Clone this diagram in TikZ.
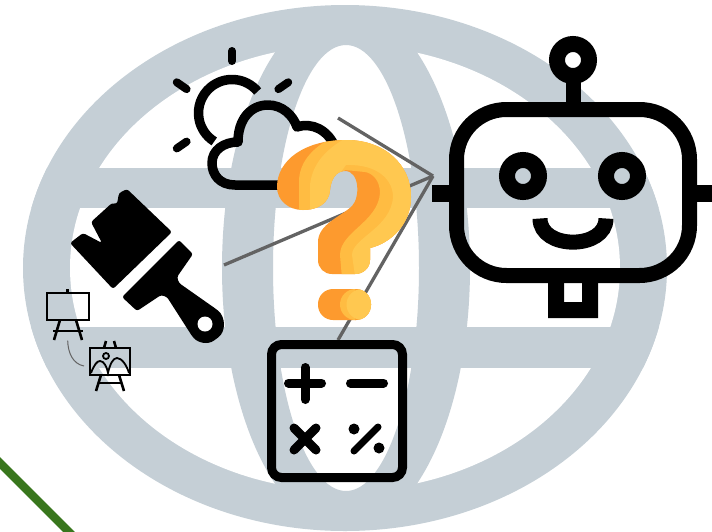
\documentclass[tikz,border=0pt]{standalone}
\usetikzlibrary{calc}
\definecolor{globegray}{HTML}{C5CFD6}
\definecolor{linkgray}{HTML}{636363}
\definecolor{qbase}{HTML}{FD9A2E}
\definecolor{qmid}{HTML}{FFBC42}
\definecolor{qlight}{HTML}{FFC850}
\definecolor{leaf}{HTML}{38761D}
\tikzset{
  link/.style={draw=linkgray,line width=3.3pt},
  thinlink/.style={draw=linkgray,line width=1pt},
  icon/.style={draw=black,line width=15pt},
  cloudline/.style={draw=black,line width=9.5pt,line join=round},
  ray/.style={draw=black,line width=8pt,line cap=round},
  calcmark/.style={draw=black,line width=9pt,line cap=round},
  easelline/.style={draw=black,line width=2.6pt},
  qshape/.style={fill=qbase},
}
\newcommand{\qpath}{(277,187)
 .. controls (277,160) and (305,140) .. (346,140)
 .. controls (385,140) and (411,165) .. (411,197)
 .. controls (411,224) and (391,243) .. (370,248)
 -- (370,260)
 .. controls (370,268) and (363,274) .. (355,274)
 -- (332,274)
 .. controls (324,274) and (318,268) .. (318,260)
 -- (318,242)
 .. controls (318,224) and (342,216) .. (352,206)
 .. controls (360,198) and (360,171) .. (345,171)
 .. controls (336,171) and (331,179) .. (330,190)
 .. controls (329,203) and (318,210) .. (303,210)
 .. controls (288,210) and (277,200) .. (277,187) -- cycle}
\begin{document}
\begin{tikzpicture}[x=1pt,y=-1pt]
\useasboundingbox (0,0) rectangle (712,531);
\clip (0,0) rectangle (712,531);
% globe
\fill[globegray] (345,268) ellipse [x radius=322,y radius=263];
\fill[white] (345,268) ellipse [x radius=275,y radius=223];
\begin{scope}
  \clip (345,268) ellipse [x radius=322,y radius=263];
  \fill[globegray] (0,168) rectangle (712,208);
  \fill[globegray] (0,327) rectangle (712,368);
\end{scope}
\fill[globegray,even odd rule] (346,268) ellipse [x radius=124,y radius=263]
   (346,268) ellipse [x radius=73,y radius=223];
% green line
\coordinate (greenA) at (-6,457);
\coordinate (greenB) at (75,538);
\draw[leaf,line width=8.3pt] (greenA) -- (greenB);
% connectors
\coordinate (apex) at (433,176);
\coordinate (cloudEnd) at (338,118);
\coordinate (brushEnd) at (224,265);
\coordinate (calcEnd) at (338,340);
\draw[link] (cloudEnd) -- (apex);
\draw[link] (brushEnd) -- (apex);
\draw[link] (calcEnd) -- (apex);
% sun and cloud
\draw[cloudline] (232,113) ++(-40:33.5) arc [start angle=-40,end angle=-238,radius=33.5];
\draw[ray] (232,51) -- (232,61);
\draw[ray] (176.8,82.3) -- (186.6,89.1);
\draw[ray] (288.2,82.3) -- (278.4,89.1);
\draw[ray] (176.8,148.4) -- (186.6,141.6);
\draw[cloudline] (300,185) -- (235,185)
  .. controls (220,185) and (212,175) .. (212,163)
  .. controls (212,150) and (224,142) .. (238,142)
  .. controls (238,120) and (250,105) .. (268,105)
  .. controls (282,105) and (293,115) .. (297,127)
  .. controls (312,122) and (328,130) .. (335,147);
% brush
\fill[black,rounded corners=2.5pt] (70,243) -- (83,233) -- (102,243) -- (91,222) -- (112,203)
  -- (117,204) -- (119,193) -- (127,189) -- (172,232) -- (113,289) -- cycle;
\fill[black,rounded corners=2.5pt] (179,240) -- (193,254) -- (177,277) -- (179,283)
  -- (216,309) .. controls (226,317) and (226,332) .. (216,339)
  .. controls (208,345) and (198,343) .. (192,336)
  -- (167,297) -- (161,295) -- (137,311) -- (122,297) -- cycle;
\fill[white] (205,324) circle [radius=7.5];
% easels
\draw[easelline,fill=none] (47,293) rectangle (89,320);
\draw[easelline] (67.7,289) -- (67.7,293);
\draw[easelline] (60,320) -- (54,340);
\draw[easelline] (76,320) -- (82,340);
\draw[easelline] (53,331) -- (83,331);
\coordinate (easelA) at (67.7,340.7);
\coordinate (easelB) at (84,366);
\draw[thinlink] (easelA) .. controls (68,353) and (73,364) .. (easelB);
\draw[easelline] (90,348) rectangle (130,375);
\draw[easelline] (106,341) -- (104,348);
\draw[easelline] (114,341) -- (116,348);
\draw[easelline] (101,375) -- (96,391);
\draw[easelline] (119,375) -- (124,391);
\draw[easelline] (98,383) -- (122,383);
\draw[black,line width=1.8pt] (106,356) circle [radius=3];
\draw[black,line width=1.8pt] (91,373) .. controls (94,365) and (97,361) .. (100,361)
  .. controls (104,361) and (107,367) .. (108,373)
  .. controls (110,364) and (113,358) .. (117,358)
  .. controls (122,358) and (127,366) .. (129,373);
% calculator
\draw[black,line width=9pt,rounded corners=10pt] (271.5,344.5) rectangle (402.5,477.5);
\draw[calcmark] (288.5,383) -- (321.5,383);
\draw[calcmark] (305,367.5) -- (305,399.5);
\draw[calcmark] (350.5,383) -- (383.5,383);
\draw[calcmark] (294,428) -- (316,450);
\draw[calcmark] (316,428) -- (294,450);
\draw[calcmark,line width=7pt] (378,427) -- (354,451);
\fill[black] (354,429) circle [radius=5.5];
\fill[black] (379,448) circle [radius=5.5];
% robot
\draw[icon,rounded corners=50pt] (456.5,109.5) rectangle (689.5,275.5);
\draw[black,line width=16pt] (573,60) circle [radius=16];
\fill[black] (565.5,78) rectangle (580.5,103);
\fill[black] (432,185) rectangle (450,202);
\fill[black] (697,185) rectangle (712,202);
\draw[black,line width=16pt] (523,176) circle [radius=16];
\draw[black,line width=16pt] (622,176) circle [radius=16];
\draw[icon] (540,218.5) .. controls (540,250) and (606,250) .. (606,218.5);
\fill[black,even odd rule] (548,282) rectangle (598,318) (564,282) rectangle (582,302);
% question mark
\fill[qshape] \qpath;
\begin{scope}
  \clip \qpath;
  \fill[qmid] (299,215) -- (299,180) .. controls (300,160) and (315,145) .. (338,135)
    -- (420,130) -- (420,290) -- (343,290) -- (340,255)
    .. controls (340,232) and (378,222) .. (380,193)
    .. controls (380,180) and (372,173) .. (365,172) -- (345,170) -- (330,187) -- (330,215) -- cycle;
  \fill[qlight] (310,215) -- (310,185) .. controls (312,165) and (325,148) .. (352,135)
    -- (420,130) -- (420,290) -- (357,290) -- (352,255)
    .. controls (352,238) and (391,228) .. (393,197)
    .. controls (393,180) and (378,164) .. (346,165) -- (330,187) -- (330,215) -- cycle;
\end{scope}
\fill[qbase,rounded corners=15pt] (318,289) rectangle (371,320);
\begin{scope}
  \clip[rounded corners=15pt] (318,289) rectangle (371,320);
  \fill[qmid] (355.5,304.5) circle [radius=15.5] (355,289) rectangle (372,320);
  \fill[qlight] (362,304.5) circle [radius=15.5];
\end{scope}
\end{tikzpicture}
\end{document}
